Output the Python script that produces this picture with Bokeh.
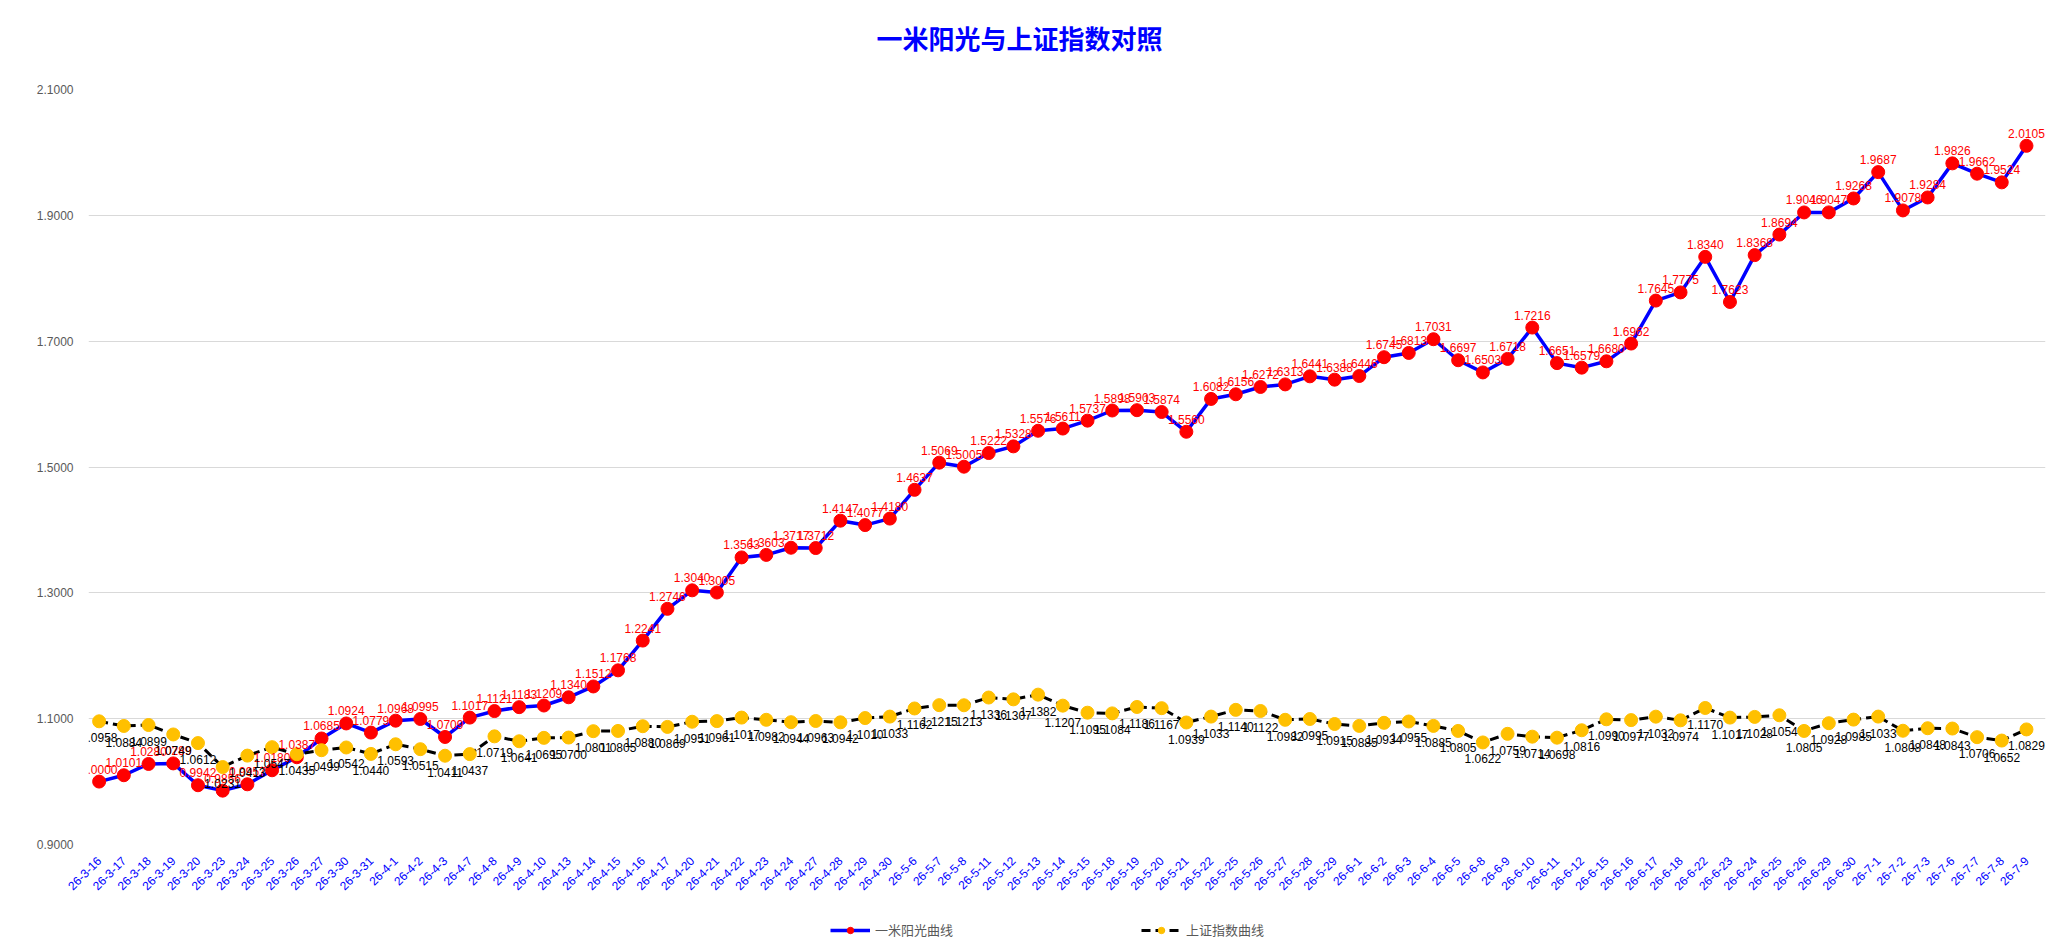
import math
from bokeh.plotting import figure
from bokeh.layouts import column
from bokeh.models import (ColumnDataSource, Range1d, FixedTicker,
                          NumeralTickFormatter, Legend, LegendItem, Label)
from bokeh.core.properties import value
from bokeh.embed import file_html
from bokeh.resources import INLINE

dates = ["26-3-16", "26-3-17", "26-3-18", "26-3-19", "26-3-20", "26-3-23", "26-3-24", "26-3-25",
         "26-3-26", "26-3-27", "26-3-30", "26-3-31", "26-4-1", "26-4-2", "26-4-3", "26-4-7",
         "26-4-8", "26-4-9", "26-4-10", "26-4-13", "26-4-14", "26-4-15", "26-4-16", "26-4-17",
         "26-4-20", "26-4-21", "26-4-22", "26-4-23", "26-4-24", "26-4-27", "26-4-28", "26-4-29",
         "26-4-30", "26-5-6", "26-5-7", "26-5-8", "26-5-11", "26-5-12", "26-5-13", "26-5-14",
         "26-5-15", "26-5-18", "26-5-19", "26-5-20", "26-5-21", "26-5-22", "26-5-25", "26-5-26",
         "26-5-27", "26-5-28", "26-5-29", "26-6-1", "26-6-2", "26-6-3", "26-6-4", "26-6-5",
         "26-6-8", "26-6-9", "26-6-10", "26-6-11", "26-6-12", "26-6-15", "26-6-16", "26-6-17",
         "26-6-18", "26-6-22", "26-6-23", "26-6-24", "26-6-25", "26-6-26", "26-6-29", "26-6-30",
         "26-7-1", "26-7-2", "26-7-3", "26-7-6", "26-7-7", "26-7-8", "26-7-9"]

sunshine = [1.0000, 1.0101, 1.0280, 1.0289, 0.9942, 0.9856, 0.9957, 1.0180,
            1.0387, 1.0685, 1.0924, 1.0779, 1.0968, 1.0995, 1.0709, 1.1017,
            1.1121, 1.1183, 1.1209, 1.1340, 1.1512, 1.1768, 1.2241, 1.2746,
            1.3040, 1.3005, 1.3563, 1.3603, 1.3717, 1.3712, 1.4147, 1.4077,
            1.4180, 1.4637, 1.5069, 1.5005, 1.5222, 1.5328, 1.5576, 1.5611,
            1.5737, 1.5898, 1.5903, 1.5874, 1.5560, 1.6082, 1.6156, 1.6272,
            1.6313, 1.6441, 1.6388, 1.6446, 1.6745, 1.6813, 1.7031, 1.6697,
            1.6503, 1.6718, 1.7216, 1.6651, 1.6579, 1.6680, 1.6962, 1.7645,
            1.7775, 1.8340, 1.7623, 1.8368, 1.8694, 1.9046, 1.9047, 1.9268,
            1.9687, 1.9078, 1.9284, 1.9826, 1.9662, 1.9524, 2.0105]

shanghai = [1.0958, 1.0884, 1.0899, 1.0749, 1.0612, 1.0231, 1.0413, 1.0547,
            1.0435, 1.0499, 1.0542, 1.0440, 1.0593, 1.0515, 1.0411, 1.0437,
            1.0719, 1.0641, 1.0695, 1.0700, 1.0801, 1.0805, 1.0880, 1.0869,
            1.0951, 1.0961, 1.1017, 1.0982, 1.0944, 1.0963, 1.0942, 1.1010,
            1.1033, 1.1162, 1.1215, 1.1213, 1.1336, 1.1307, 1.1382, 1.1207,
            1.1095, 1.1084, 1.1186, 1.1167, 1.0939, 1.1033, 1.1140, 1.1122,
            1.0982, 1.0995, 1.0915, 1.0885, 1.0934, 1.0955, 1.0885, 1.0805,
            1.0622, 1.0759, 1.0714, 1.0698, 1.0816, 1.0990, 1.0977, 1.1032,
            1.0974, 1.1170, 1.1017, 1.1028, 1.1054, 1.0805, 1.0928, 1.0985,
            1.1033, 1.0808, 1.0848, 1.0843, 1.0706, 1.0652, 1.0829]

y_ticks = [0.9, 1.1, 1.3, 1.5, 1.7, 1.9, 2.1]
series_names = ["一米阳光曲线", "上证指数曲线"]
chart_title = "一米阳光与上证指数对照"

W = 2046
BL, BR = 88, 1
FW = W - BL - BR

idx = list(range(len(dates)))
src = ColumnDataSource(data=dict(
    x=idx, a=sunshine, b=shanghai,
    at=[f"{v:.4f}" for v in sunshine],
    bt=[f"{v:.4f}" for v in shanghai],
))

# ---- title strip ----
t = figure(width=W, height=60, x_range=Range1d(0, FW), y_range=Range1d(0, 60),
           x_axis_type=None, y_axis_type=None, output_backend="svg",
           toolbar_location=None, min_border_left=BL, min_border_right=BR,
           min_border_top=0, min_border_bottom=0)
t.outline_line_color = None
t.xgrid.visible = False
t.ygrid.visible = False
t.add_layout(Label(x=931, y=23, text=chart_title, text_align="center",
                   text_baseline="middle", text_font="Noto Sans CJK SC",
                   text_font_size="26px", text_font_style="bold",
                   text_color="#0000FF"))

# ---- main chart ----
p = figure(width=W, height=856, x_range=Range1d(-0.43, len(dates) - 0.23),
           y_range=Range1d(0.9, 2.1), output_backend="svg", toolbar_location=None,
           min_border_left=BL, min_border_right=BR, min_border_top=29, min_border_bottom=72)
p.outline_line_color = None
p.background_fill_color = "white"

p.xgrid.grid_line_color = None
p.ygrid.grid_line_color = "#D9D9D9"
p.ygrid.grid_line_width = 1

p.yaxis.ticker = FixedTicker(ticks=y_ticks)
p.yaxis.formatter = NumeralTickFormatter(format="0.0000")
p.yaxis.axis_line_color = None
p.yaxis.major_tick_line_color = None
p.yaxis.minor_tick_line_color = None
p.yaxis.major_label_standoff = 9
p.yaxis.major_label_text_font = "Liberation Sans"
p.yaxis.major_label_text_font_size = "12px"
p.yaxis.major_label_text_color = "#595959"

p.xaxis.ticker = FixedTicker(ticks=idx)
p.xaxis.major_label_overrides = {i: d for i, d in zip(idx, dates)}
p.xaxis.axis_line_color = None
p.xaxis.major_tick_line_color = None
p.xaxis.minor_tick_line_color = None
p.xaxis.major_label_orientation = math.pi / 4
p.xaxis.major_label_standoff = 8
p.xaxis.major_label_text_font = "Liberation Sans"
p.xaxis.major_label_text_font_size = "12px"
p.xaxis.major_label_text_color = "#0000FF"

p.line("x", "a", source=src, line_color="#0000FF", line_width=3.5)
p.scatter("x", "a", source=src, size=13, fill_color="#FF0000", line_color="#FF0000")
p.line("x", "b", source=src, line_color="#000000", line_width=3, line_dash="9 5")
p.scatter("x", "b", source=src, size=13, fill_color="#FFC000", line_color="#FFC000")

p.text("x", "a", text="at", source=src, text_align="center", text_baseline="bottom",
       y_offset=-8, text_color="#FF0000", text_font=value("Liberation Sans"),
       text_font_size="12px")
p.text("x", "b", text="bt", source=src, text_align="center", text_baseline="top",
       y_offset=12, text_color="#000000", text_font=value("Liberation Sans"),
       text_font_size="12px")

# ---- legend strip ----
q = figure(width=W, height=30, x_range=Range1d(0, 1), y_range=Range1d(0, 1),
           x_axis_type=None, y_axis_type=None, output_backend="svg",
           toolbar_location=None, min_border_left=BL, min_border_right=BR,
           min_border_top=0, min_border_bottom=0)
q.outline_line_color = None
q.xgrid.visible = False
q.ygrid.visible = False
off = ColumnDataSource(data=dict(x=[5, 6], y=[5, 6]))
la = q.line("x", "y", source=off, line_color="#0000FF", line_width=3.5)
sa = q.scatter("x", "y", source=off, size=13, fill_color="#FF0000", line_color="#FF0000")
lb = q.line("x", "y", source=off, line_color="#000000", line_width=3, line_dash="9 5")
sb = q.scatter("x", "y", source=off, size=13, fill_color="#FFC000", line_color="#FFC000")

legend = Legend(items=[LegendItem(label=series_names[0], renderers=[la, sa]),
                       LegendItem(label=series_names[1], renderers=[lb, sb])],
                orientation="horizontal", location=(742, 7), spacing=188,
                glyph_width=40, glyph_height=16, label_standoff=5,
                label_text_font="Noto Sans CJK SC", label_text_font_size="13px",
                label_text_color="#595959", border_line_color=None,
                background_fill_alpha=0, padding=2, margin=0)
q.add_layout(legend, "center")

layout = column(t, p, q, spacing=0)
open("out.html", "w").write(file_html(layout, INLINE))
